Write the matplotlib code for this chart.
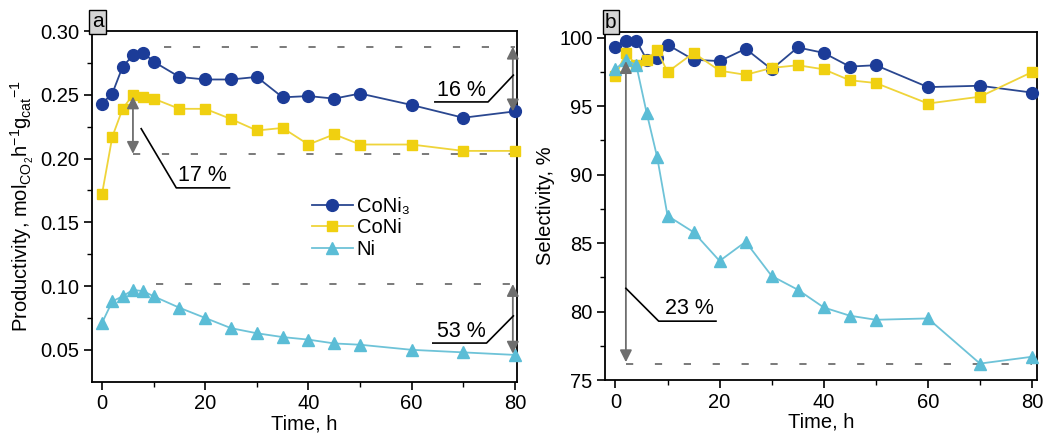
import matplotlib
matplotlib.use('Agg')
import matplotlib.pyplot as plt

plt.rcParams['font.family'] = ['Liberation Sans', 'DejaVu Sans']
plt.rcParams['mathtext.fontset'] = 'custom'
plt.rcParams['mathtext.rm'] = 'Liberation Sans'
plt.rcParams['mathtext.it'] = 'Liberation Sans'
plt.rcParams['font.size'] = 14.5

# Data
time_h = [0, 2, 4, 6, 8, 10, 15, 20, 25, 30, 35, 40, 45, 50, 60, 70, 80]

prod_coni3 = [0.243, 0.251, 0.272, 0.281, 0.283, 0.276, 0.264, 0.262, 0.262, 0.264,
              0.248, 0.249, 0.247, 0.251, 0.242, 0.232, 0.237]
prod_coni = [0.172, 0.217, 0.239, 0.250, 0.248, 0.247, 0.239, 0.239, 0.231, 0.222,
             0.224, 0.211, 0.219, 0.211, 0.211, 0.206, 0.206]
prod_ni = [0.071, 0.088, 0.092, 0.097, 0.096, 0.092, 0.083, 0.075, 0.067, 0.063,
           0.060, 0.058, 0.055, 0.054, 0.050, 0.048, 0.046]

sel_coni3 = [99.3, 99.8, 99.8, 98.4, 98.5, 99.5, 98.4, 98.3, 99.2, 97.7,
             99.3, 98.9, 97.9, 98.0, 96.4, 96.5, 96.0]
sel_coni = [97.2, 98.9, 98.0, 98.4, 99.1, 97.5, 98.9, 97.6, 97.3, 97.8,
            98.0, 97.7, 96.9, 96.7, 95.2, 95.7, 97.5]
sel_ni = [97.7, 98.4, 98.0, 94.5, 91.3, 87.0, 85.8, 83.7, 85.1, 82.6,
          81.6, 80.3, 79.7, 79.4, 79.5, 76.2, 76.7]

labels = ['CoNi₃', 'CoNi', 'Ni']
colors = ['#1c3c98', '#f0d010', '#5bbdd6']
line_colors = ['#2a4790', '#efd43a', '#6ec3d8']
markers = ['o', 's', '^']
msizes = [8.5, 7, 8.5]

fig = plt.figure(figsize=(10.45, 4.34), dpi=100)
ax1 = fig.add_axes([0.0877, 0.1205, 0.407, 0.808])
ax2 = fig.add_axes([0.579, 0.1244, 0.4136, 0.8026])


def draw_series(ax, series):
    for ys, lab, c, lc, m, ms in zip(series, labels, colors, line_colors, markers, msizes):
        ax.plot(time_h, ys, color=lc, lw=1.3, marker=m, ms=ms, mfc=c, mec=c,
                label=lab, clip_on=False, zorder=3)


def style_axes(ax, letter):
    ax.tick_params(direction='out', length=6, width=1.2, top=False, right=False, pad=3)
    ax.tick_params(which='minor', direction='out', length=3.5, width=1.0)
    for s in ax.spines.values():
        s.set_linewidth(1.3)
    ax.set_xticks([0, 20, 40, 60, 80])
    ax.set_xticks([10, 30, 50, 70], minor=True)
    ax.set_xlabel('Time, h', labelpad=1)
    ax.text(0, 1.0, letter, transform=ax.transAxes, ha='left', va='bottom',
            fontsize=15, bbox=dict(boxstyle='square,pad=0.12', fc='#d4d4d4', ec='black', lw=1.0))


def double_arrow(ax, x, y0, y1):
    ax.annotate('', xy=(x, y1), xytext=(x, y0),
                arrowprops=dict(arrowstyle='<|-|>', color='#6e6e6e', lw=1.3,
                                mutation_scale=18, shrinkA=0, shrinkB=0), zorder=4)


def leader(ax, pts, text, tx, ty):
    xs = [p[0] for p in pts]
    ys = [p[1] for p in pts]
    ax.plot(xs, ys, color='black', lw=1.2, zorder=4, clip_on=False)
    ax.text(tx, ty, text, ha='center', va='bottom', fontsize=15.5)


dash = (0, (4, 12))

# Panel a
draw_series(ax1, [prod_coni3, prod_coni, prod_ni])
ax1.set_xlim(-2, 80.4)
ax1.set_ylim(0.025, 0.30)
ax1.set_yticks([0.05, 0.10, 0.15, 0.20, 0.25, 0.30])
ax1.set_yticks([0.075, 0.125, 0.175, 0.225, 0.275], minor=True)
ax1.set_yticklabels(['0.05', '0.10', '0.15', '0.20', '0.25', '0.30'])
ax1.set_ylabel(r'Productivity, mol$_{\mathrm{CO_2}}$h$^{-1}$g$_{\mathrm{cat}}$$^{-1}$', labelpad=3)
style_axes(ax1, 'a')

ax1.plot([12, 80], [0.2877, 0.2877], color='#707070', lw=1.3, linestyle=dash, zorder=2)
ax1.plot([6, 80], [0.2037, 0.2037], color='#707070', lw=1.3, linestyle=dash, zorder=2)
ax1.plot([10.5, 80], [0.1016, 0.1016], color='#707070', lw=1.3, linestyle=dash, zorder=2)

double_arrow(ax1, 6, 0.2037, 0.2487)
double_arrow(ax1, 79.6, 0.237, 0.2877)
double_arrow(ax1, 79.6, 0.047, 0.1016)

leader(ax1, [(7.6, 0.2234), (14.4, 0.177), (24.7, 0.177)], '17 %', 19.5, 0.1785)
leader(ax1, [(79.7, 0.2654), (74.8, 0.2444), (64.5, 0.2444)], '16 %', 69.6, 0.2455)
leader(ax1, [(79.7, 0.0766), (74.5, 0.0553), (64.1, 0.0553)], '53 %', 69.6, 0.0564)

ax1.legend(loc='upper left', bbox_to_anchor=(0.5, 0.55), frameon=False,
           handlelength=2.0, handletextpad=0.2, labelspacing=0.12, fontsize=14.5,
           borderaxespad=0)

# Panel b
draw_series(ax2, [sel_coni3, sel_coni, sel_ni])
ax2.set_xlim(-2, 81)
ax2.set_ylim(75, 100.45)
ax2.set_yticks([75, 80, 85, 90, 95, 100])
ax2.set_yticks([77.5, 82.5, 87.5, 92.5, 97.5], minor=True)
ax2.set_ylabel('Selectivity, %', labelpad=3)
style_axes(ax2, 'b')

ax2.plot([2, 80], [76.2, 76.2], color='#707070', lw=1.3, linestyle=dash, zorder=2)
double_arrow(ax2, 2, 76.3, 98.3)
leader(ax2, [(2, 81.7), (8.3, 79.3), (19.3, 79.3)], '23 %', 14.2, 79.45)

fig.savefig('out.png', dpi=100)
